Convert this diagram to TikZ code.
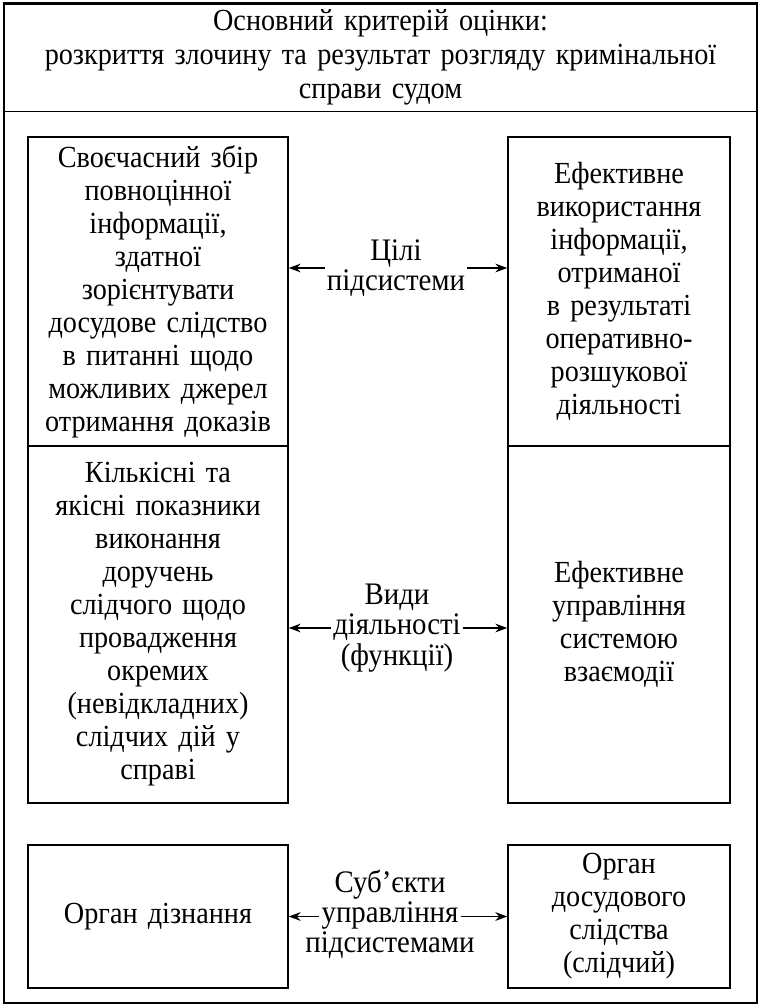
\documentclass[tikz,border=0pt]{standalone}
\usepackage{fontspec}
\setmainfont[FakeStretch=0.92]{Liberation Serif}
\usetikzlibrary{arrows.meta,positioning}

\tikzset{
  txt/.style={font=\fontsize{23}{24.75}\selectfont},
  box/.style={draw, txt, line width=1pt, align=center, inner sep=0pt},
  lbl/.style={font=\fontsize{23.5}{23}\selectfont, align=center, inner sep=1.5pt},
  lineword/.style={lbl, text height=14pt, text depth=5pt, inner sep=1.5pt},
  link/.style={-{Stealth[length=9pt,width=6.5pt]}, line width=1.4pt}
}

\begin{document}
\begin{tikzpicture}[x=0.75pt, y=-0.75pt]
    \useasboundingbox (0,0) rectangle (760,1006);

    % Outer frame and title
    \draw[line width=0.9pt] (4,4) rectangle (757,1003);
    \node[box, minimum width=564.75pt, minimum height=81.75pt, text width=550pt,
          font=\fontsize{23}{25.5}\selectfont] (title) at (380.5,57)
        {Основний критерій оцінки:\\розкриття злочину та результат розгляду кримінальної\\справи судом};

    % Left column
    \node[box, minimum width=195pt, minimum height=231.75pt, text width=190pt] (goalL) at (158,291.5)
        {Своєчасний збір\\повноцінної\\інформації,\\здатної\\зорієнтувати\\досудове слідство\\в питанні щодо\\можливих джерел\\отримання доказів};
    \node[box, minimum width=195pt, minimum height=267.75pt, text width=190pt] (funcL) at (158,624.5)
        {Кількісні та\\якісні показники\\виконання\\доручень\\слідчого щодо\\провадження\\окремих\\(невідкладних)\\слідчих дій у\\справі};
    \node[box, minimum width=195pt, minimum height=107.25pt, text width=190pt] (subjL) at (158,916.5)
        {Орган дізнання};

    % Right column
    \node[box, minimum width=166.5pt, minimum height=231.75pt, text width=162pt] (goalR) at (619,291.5)
        {Ефективне\\використання\\інформації,\\отриманої\\в результаті\\оперативно-\\розшукової\\діяльності};
    \node[box, minimum width=166.5pt, minimum height=267.75pt, text width=162pt] (funcR) at (619,624.5)
        {Ефективне\\управління\\системою\\взаємодії};
    \node[box, minimum width=166.5pt, minimum height=107.25pt, text width=162pt] (subjR) at (619,916.5)
        {Орган\\досудового\\слідства\\(слідчий)};

    % Middle labels
    \node[lbl] (goals) at (396,268) {Цілі\\підсистеми};
    \node[lbl] (funcs) at (397,628) {Види\\діяльності\\(функції)};
    \node[lineword] (upr) at (390,916.5) {управління};
    \node[lineword, above=0pt of upr] (subj) {Суб’єкти};
    \node[lineword, below=0pt of upr] (pids) {підсистемами};

    % Arrows
    \draw[link] (goals.west) -- (goalL.east |- goals.west);
    \draw[link] (goals.east) -- (goalR.west |- goals.east);
    \draw[link] (funcs.west) -- (funcL.east |- funcs.west);
    \draw[link] (funcs.east) -- (funcR.west |- funcs.east);
    \draw[link] (upr.west) -- (subjL.east |- upr.west);
    \draw[link] (upr.east) -- (subjR.west |- upr.east);
\end{tikzpicture}
\end{document}
